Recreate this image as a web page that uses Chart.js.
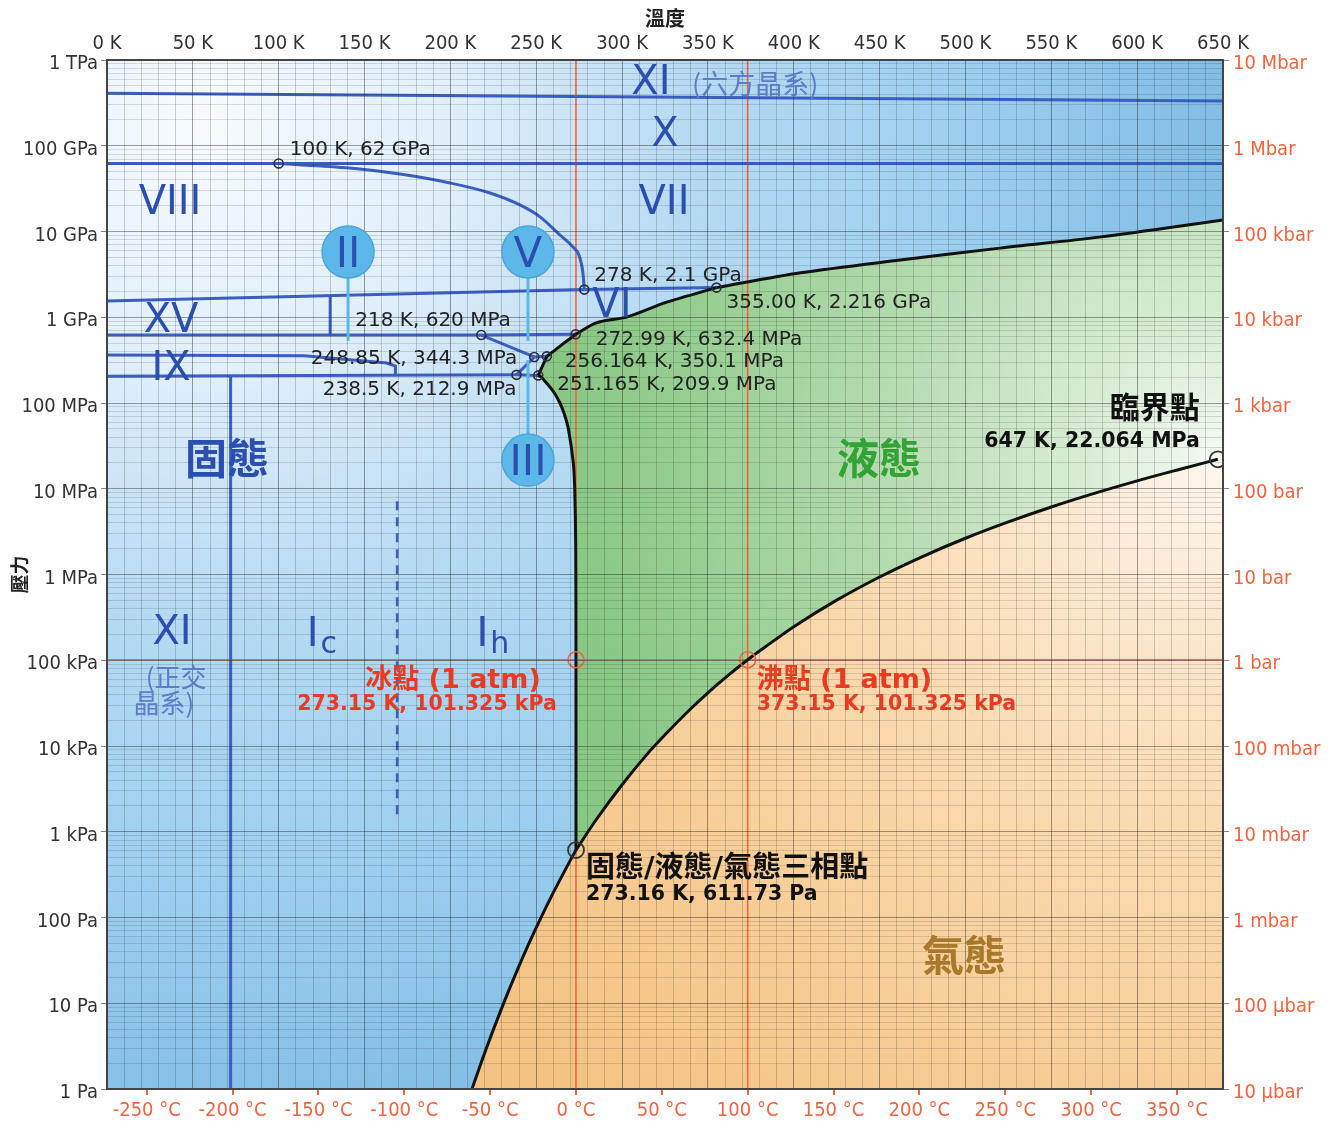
<!DOCTYPE html>
<html>
<head>
<meta charset="utf-8">
<title>水的相圖</title>
<script src="https://cdn.jsdelivr.net/npm/chart.js@4.4.1/dist/chart.umd.min.js"></script>
<style>
  html, body { margin: 0; padding: 0; background: #fff; }
  #wrap { width: 1332px; height: 1123px; position: relative; }
</style>
</head>
<body>
<div id="wrap"><canvas id="myChart"></canvas></div>
<script>
// ---- axis labels ----
var pressureLabels = ['1 Pa', '10 Pa', '100 Pa', '1 kPa', '10 kPa', '100 kPa', '1 MPa',
                      '10 MPa', '100 MPa', '1 GPa', '10 GPa', '100 GPa', '1 TPa'];
var barLabels = ['10 µbar', '100 µbar', '1 mbar', '10 mbar', '100 mbar', '1 bar', '10 bar',
                 '100 bar', '1 kbar', '10 kbar', '100 kbar', '1 Mbar', '10 Mbar'];
var celsiusTicks = [-250, -200, -150, -100, -50, 0, 50, 100, 150, 200, 250, 300, 350];

// ---- liquid / vapour / solid boundaries (K, Pa) ----
var sublimT = [212.6, 220, 230, 240, 250, 260, 270, 273.16];
var sublimP = [1, 2.65, 8.9, 27.3, 76, 196, 470, 611.73];

var vapT = [273.16, 285, 300, 315, 325, 340, 350, 360, 373.15, 385, 400, 425, 450, 475, 500, 525, 550, 575, 600, 625, 647];
var vapP = [611.73, 1389, 3537, 8205, 13500, 27200, 41700, 62200, 101325, 151000, 245800, 502000, 936000,
            1620000, 2646000, 4100000, 6130000, 8830000, 12370000, 16900000, 22064000];

var meltIhT = [273.16, 273.15, 273.0, 272.4, 271.6, 268.7, 266.3, 263.8, 261.2, 258.4, 255.6, 252.9, 251.165];
var meltIhP = [611.73, 101325, 2.2e6, 1e7, 2e7, 5e7, 7.5e7, 1e8, 1.25e8, 1.5e8, 1.75e8, 2e8, 2.099e8];
var meltIIIT = [251.165, 256.164];
var meltIIIP = [2.099e8, 3.501e8];
var meltVT = [256.164, 260, 265, 270, 272.99];
var meltVP = [3.501e8, 4.0e8, 4.8e8, 5.7e8, 6.324e8];
var meltVIT = [272.99, 285, 303, 326, 355];
var meltVIP = [6.324e8, 8.6e8, 1.01e9, 1.5e9, 2.216e9];
var meltVIIT = [355, 404, 462, 520, 578, 650];
var meltVIIP = [2.216e9, 3.3e9, 4.65e9, 6.4e9, 8.6e9, 1.36e10];

// ---- solid-solid boundaries ----
var xXiT = [0, 650];              var xXiP = [4.09e11, 3.33e11];
var xT = [0, 650];                var xP = [62e9, 62e9];
var viiViiiT = [100, 141.5, 170.7, 199.8, 223.1, 240.5, 252.2, 263.8, 271.4, 274.9, 277.2, 278];
var viiViiiP = [62e9, 5.5e10, 4.68e10, 3.68e10, 2.81e10, 2.04e10, 1.48e10, 9.1e9, 6.6e9, 5.3e9, 3.3e9, 2.1e9];
var viViiT = [278, 355];          var viViiP = [2.1e9, 2.216e9];
var viiiViT = [0, 278];           var viiiViP = [1.55e9, 2.1e9];
var xvViT = [130, 130];           var xvViP = [1.75e9, 6.2e8];
var iiViT = [0, 218];             var iiViP = [6.2e8, 6.2e8];
var vViT = [218, 272.99];         var vViP = [6.2e8, 6.324e8];
var iiVT = [218, 248.85];         var iiVP = [6.2e8, 3.443e8];
var iiiVT = [248.85, 256.164];    var iiiVP = [3.443e8, 3.501e8];
var iiIiiT = [238.5, 248.85];     var iiIiiP = [2.129e8, 3.443e8];
var ihIiiT = [238.5, 251.165];    var ihIiiP = [2.129e8, 2.099e8];
var ihIiT = [0, 238.5];           var ihIiP = [2.05e8, 2.129e8];
var ixT = [0, 115, 163, 168, 168]; var ixP = [3.63e8, 3.55e8, 2.93e8, 2.7e8, 2.07e8];
var xiIcT = [72, 72];             var xiIcP = [2.07e8, 1];
var icIhT = [169, 169];           var icIhP = [1.6e3, 7.4e6];

// ---- 1 atm reference lines ----
var atmT = [0, 650];              var atmP = [101325, 101325];
var freezeT = [273.15, 273.15];   var freezeP = [1, 1e12];
var boilT = [373.15, 373.15];     var boilP = [1, 1e12];

// ---- marked points ----
var tripleT = [100, 278, 355, 218, 272.99, 248.85, 256.164, 238.5, 251.165];
var tripleP = [62e9, 2.1e9, 2.216e9, 620e6, 632.4e6, 344.3e6, 350.1e6, 212.9e6, 209.9e6];
var tripleText = ['100 K, 62 GPa', '278 K, 2.1 GPa', '355.00 K, 2.216 GPa', '218 K, 620 MPa',
                  '272.99 K, 632.4 MPa', '248.85 K, 344.3 MPa', '256.164 K, 350.1 MPa',
                  '238.5 K, 212.9 MPa', '251.165 K, 209.9 MPa'];
var bigT = [273.16, 647];         var bigP = [611.73, 22.064e6];
var atmPointT = [273.15, 373.15]; var atmPointP = [101325, 101325];

// ---- colours / fonts ----
var LINE_BLUE = '#3a5ec2';
var TEXT_BLUE = '#2b4fb0';
var PALE_BLUE = '#5d7cc9';
var DISC_BLUE = '#5db8ea';
var RED = '#ea3a22';
var RED_LINE = '#f2643f';
var AXIS_FAMILY = '"DejaVu Sans Condensed", "DejaVu Sans", sans-serif';
var TEXT_FAMILY = '"DejaVu Sans", "Noto Sans CJK TC", sans-serif';
var CJK_FAMILY = '"Noto Sans CJK TC", "DejaVu Sans", sans-serif';
var LATIN_SHIFT = 4;   // DejaVu sits a little high with a "middle" baseline

function pts(T, P) {
    return T.map(function(t, i) { return {x: t, y: P[i]}; });
}

function isDecade(v) {
    var l = Math.log10(v);
    return Math.abs(l - Math.round(l)) < 1e-9;
}

function line(T, P, color, width, order, extra) {
    var ds = {data: pts(T, P), borderColor: color, borderWidth: width, pointRadius: 0,
              fill: false, tension: 0, order: order};
    return Object.assign(ds, extra || {});
}

function critPixel(chart) {
    return {x: chart.scales.x.getPixelForValue(bigT[1]), y: chart.scales.y.getPixelForValue(bigP[1])};
}

function radial(chart, cx, cy, r, stops, fallback) {
    if (!chart.chartArea) return fallback;
    var g = chart.ctx.createRadialGradient(cx, cy, 0, cx, cy, r);
    stops.forEach(function(s) { g.addColorStop(s[0], s[1]); });
    return g;
}

function solidFill(c) {
    var ch = c.chart;
    if (!ch.chartArea) return '#b8dcf4';
    var cx = ch.scales.x.getPixelForValue(55), cy = ch.scales.y.getPixelForValue(2e11);
    return radial(ch, cx, cy, 1100, [[0, '#f7fbfe'], [0.23, '#e0effa'], [0.45, '#b6daf3'],
                                      [0.7, '#9ccfef'], [1, '#79b7e2']], '#b8dcf4');
}

function liquidFill(c) {
    var ch = c.chart;
    if (!ch.chartArea) return '#a8d6a4';
    var p = critPixel(ch);
    return radial(ch, p.x, p.y, 660, [[0, '#f4faf3'], [0.2, '#d9edd5'], [0.5, '#b6dcb1'],
                                       [0.8, '#98cf93'], [1, '#88c784']], '#a8d6a4');
}

function vapourFill(c) {
    var ch = c.chart;
    if (!ch.chartArea) return '#f9dbb0';
    var p = critPixel(ch);
    return radial(ch, p.x, p.y, 900, [[0, '#fdf7f0'], [0.18, '#fbe8d0'], [0.45, '#f9d9ac'],
                                       [0.72, '#f7cd96'], [1, '#f4c383']], '#f9dbb0');
}

// closed outlines for the coloured phase areas
var solidArea = pts([0, 650, 650, 0], [1, 1, 1e12, 1e12]);
var vapourArea = pts(sublimT, sublimP)
    .concat(pts(vapT.slice(1), vapP.slice(1)))
    .concat(pts([650, 650], [22.064e6, 1]));
var liquidArea = pts(meltIhT, meltIhP)
    .concat(pts(meltIIIT.slice(1), meltIIIP.slice(1)))
    .concat(pts(meltVT.slice(1), meltVP.slice(1)))
    .concat(pts(meltVIT.slice(1), meltVIP.slice(1)))
    .concat(pts(meltVIIT.slice(1), meltVIIP.slice(1)))
    .concat(pts([650], [22.064e6]))
    .concat(pts(vapT.slice().reverse(), vapP.slice().reverse()));

var datasets = [
    {data: solidArea, fill: 'shape', backgroundColor: solidFill, borderColor: 'rgba(0,0,0,0)', borderWidth: 0, pointRadius: 0, order: 10},
    {data: vapourArea, fill: 'shape', backgroundColor: vapourFill, borderColor: 'rgba(0,0,0,0)', borderWidth: 0, pointRadius: 0, order: 9},
    {data: liquidArea, fill: 'shape', backgroundColor: liquidFill, borderColor: 'rgba(0,0,0,0)', borderWidth: 0, pointRadius: 0, order: 9},

    line(atmT, atmP, RED_LINE, 1.6, 6),
    line(freezeT, freezeP, RED_LINE, 1.6, 6),
    line(boilT, boilP, RED_LINE, 1.6, 6),

    line(xXiT, xXiP, LINE_BLUE, 3, 4),
    line(xT, xP, LINE_BLUE, 3, 4),
    line(viiViiiT, viiViiiP, LINE_BLUE, 3, 4, {cubicInterpolationMode: 'monotone'}),
    line(viViiT, viViiP, LINE_BLUE, 3, 4),
    line(viiiViT, viiiViP, LINE_BLUE, 3, 4),
    line(xvViT, xvViP, LINE_BLUE, 3, 4),
    line(iiViT, iiViP, LINE_BLUE, 3, 4),
    line(vViT, vViP, LINE_BLUE, 3, 4),
    line(iiVT, iiVP, LINE_BLUE, 3, 4),
    line(iiiVT, iiiVP, LINE_BLUE, 3, 4),
    line(iiIiiT, iiIiiP, LINE_BLUE, 3, 4),
    line(ihIiiT, ihIiiP, LINE_BLUE, 3, 4),
    line(ihIiT, ihIiP, LINE_BLUE, 3, 4),
    line(ixT, ixP, LINE_BLUE, 3, 4),
    line(xiIcT, xiIcP, LINE_BLUE, 3, 4),
    line(icIhT, icIhP, LINE_BLUE, 2.6, 4, {borderDash: [9, 7]}),

    line(sublimT, sublimP, '#111', 3, 3, {tension: 0.3}),
    line(vapT, vapP, '#111', 3, 3, {cubicInterpolationMode: 'monotone'}),
    line(meltIhT, meltIhP, '#111', 3, 3, {tension: 0.3}),
    line(meltIIIT, meltIIIP, '#111', 3, 3),
    line(meltVT, meltVP, '#111', 3, 3, {tension: 0.3}),
    line(meltVIT, meltVIP, '#111', 3, 3, {tension: 0.3}),
    line(meltVIIT, meltVIIP, '#111', 3, 3, {tension: 0.3}),

    {data: pts(tripleT, tripleP), showLine: false, pointRadius: 4.5, pointBorderWidth: 1.6,
     pointBorderColor: '#2c2f3c', pointBackgroundColor: 'rgba(0,0,0,0)', order: 1},
    {data: pts(bigT, bigP), showLine: false, pointRadius: 8, pointBorderWidth: 1.8,
     pointBorderColor: '#333', pointBackgroundColor: 'rgba(0,0,0,0)', order: 1},
    {data: pts(atmPointT, atmPointP), showLine: false, pointRadius: 8, pointBorderWidth: 1.6,
     pointBorderColor: RED_LINE, pointBackgroundColor: 'rgba(0,0,0,0)', order: 1}
];

// phase names, placed at (K, Pa)
var regionLabels = [
    {text: 'XI', k: 316.8, p: 5.85e11, size: 40, color: TEXT_BLUE},
    {text: '(六方晶系)', k: 377.5, p: 5.25e11, size: 27, color: PALE_BLUE, cjk: true},
    {text: 'X', k: 325, p: 1.45e11, size: 40, color: TEXT_BLUE},
    {text: 'VII', k: 324.4, p: 2.33e10, size: 40, color: TEXT_BLUE},
    {text: 'VIII', k: 36.7, p: 2.33e10, size: 40, color: TEXT_BLUE},
    {text: 'XV', k: 37.3, p: 9.8e8, size: 40, color: TEXT_BLUE},
    {text: 'IX', k: 37.3, p: 2.7e8, size: 40, color: TEXT_BLUE},
    {text: 'VI', k: 294.1, p: 1.47e9, size: 40, color: TEXT_BLUE},
    {text: '固態', k: 69.9, p: 2.28e7, size: 42, color: TEXT_BLUE, cjk: true, bold: true},
    {text: '液態', k: 449.6, p: 2.28e7, size: 42, color: '#33a335', cjk: true, bold: true},
    {text: '氣態', k: 499.2, p: 36.5, size: 42, color: '#a8792a', cjk: true, bold: true},
    {text: 'XI', k: 37.9, p: 2.25e5, size: 40, color: TEXT_BLUE},
    {text: '(正交', k: 40.2, p: 6.4e4, size: 26, color: PALE_BLUE, cjk: true},
    {text: '晶系)', k: 33.2, p: 3.17e4, size: 26, color: PALE_BLUE, cjk: true}
];

// "I" with a subscript letter
var subLabels = [
    {main: 'I', sub: 'c', k: 125.2, p: 1.97e5},
    {main: 'I', sub: 'h', k: 224.8, p: 1.97e5}
];

// round tags with a stem pointing at their area
var discTags = [
    {text: 'II', k: 140.4, p: 5.77e9, stemTo: 5.28e8},
    {text: 'V', k: 245.2, p: 5.77e9, stemTo: 5.28e8},
    {text: 'III', k: 245.2, p: 2.16e7, stemTo: 3.17e8}
];

// offsets of each triple-point caption from its marker
var tripleOffsets = [
    {dx: 11, dy: -16, align: 'left'},
    {dx: 10, dy: -16, align: 'left'},
    {dx: 10, dy: 13, align: 'left'},
    {dx: -126, dy: -16, align: 'left'},
    {dx: 20, dy: 3, align: 'left'},
    {dx: -17, dy: 0, align: 'right'},
    {dx: 18, dy: 3, align: 'left'},
    {dx: 0, dy: 13, align: 'right'},
    {dx: 19, dy: 7, align: 'left'}
];

var bigNotes = [
    {k: atmPointT[0], p: atmPointP[0], color: RED, align: 'center',
     lines: [{t: '冰點 (1 atm)', dx: -123, dy: 18, size: 27}, {t: '273.15 K, 101.325 kPa', dx: -149, dy: 42, size: 20.5}]},
    {k: atmPointT[1], p: atmPointP[1], color: RED, align: 'left',
     lines: [{t: '沸點 (1 atm)', dx: 9, dy: 18, size: 27}, {t: '373.15 K, 101.325 kPa', dx: 9, dy: 42, size: 20.5}]},
    {k: bigT[0], p: bigP[0], color: '#111', align: 'left',
     lines: [{t: '固態/液態/氣態三相點', dx: 10, dy: 16, size: 29}, {t: '273.16 K, 611.73 Pa', dx: 10, dy: 42, size: 20.5}]},
    {k: bigT[1], p: bigP[1], color: '#111', align: 'right',
     lines: [{t: '臨界點', dx: -18, dy: -52, size: 30}, {t: '647 K, 22.064 MPa', dx: -18, dy: -21, size: 20.5}]}
];

var notesPlugin = {
    id: 'phaseNotes',
    afterDraw: function(chart) {
        var ctx = chart.ctx, sx = chart.scales.x, sy = chart.scales.y, a = chart.chartArea;
        ctx.save();
        ctx.beginPath();
        ctx.rect(a.left, a.top, a.right - a.left, a.bottom - a.top);
        ctx.clip();
        ctx.textBaseline = 'middle';

        discTags.forEach(function(d) {
            var x = sx.getPixelForValue(d.k), y = sy.getPixelForValue(d.p);
            ctx.strokeStyle = DISC_BLUE;
            ctx.lineWidth = 3;
            ctx.beginPath();
            ctx.moveTo(x, y);
            ctx.lineTo(x, sy.getPixelForValue(d.stemTo));
            ctx.stroke();
            ctx.beginPath();
            ctx.arc(x, y, 26, 0, Math.PI * 2);
            ctx.fillStyle = DISC_BLUE;
            ctx.fill();
            ctx.lineWidth = 1.5;
            ctx.strokeStyle = '#4aa5dc';
            ctx.stroke();
            ctx.fillStyle = TEXT_BLUE;
            ctx.textAlign = 'center';
            ctx.font = '42px ' + TEXT_FAMILY;
            ctx.fillText(d.text, x, y + LATIN_SHIFT);
        });

        regionLabels.forEach(function(r) {
            ctx.font = (r.bold ? 'bold ' : '') + r.size + 'px ' + (r.cjk ? CJK_FAMILY : TEXT_FAMILY);
            ctx.fillStyle = r.color;
            ctx.textAlign = 'center';
            ctx.fillText(r.text, sx.getPixelForValue(r.k), sy.getPixelForValue(r.p) + (r.cjk ? 0 : LATIN_SHIFT));
        });

        subLabels.forEach(function(s) {
            var x = sx.getPixelForValue(s.k), y = sy.getPixelForValue(s.p) + LATIN_SHIFT;
            ctx.fillStyle = TEXT_BLUE;
            ctx.textAlign = 'left';
            ctx.font = '40px ' + TEXT_FAMILY;
            var w = ctx.measureText(s.main).width;
            ctx.font = '30px ' + TEXT_FAMILY;
            var w2 = ctx.measureText(s.sub).width;
            var left = x - (w + w2 + 2) / 2;
            ctx.font = '40px ' + TEXT_FAMILY;
            ctx.fillText(s.main, left, y - 3);
            ctx.font = '30px ' + TEXT_FAMILY;
            ctx.fillText(s.sub, left + w + 2, y + 6);
        });

        ctx.fillStyle = '#222';
        ctx.font = '20px ' + TEXT_FAMILY;
        tripleText.forEach(function(t, i) {
            var o = tripleOffsets[i];
            ctx.textAlign = o.align;
            ctx.fillText(t, sx.getPixelForValue(tripleT[i]) + o.dx, sy.getPixelForValue(tripleP[i]) + o.dy + 2);
        });

        bigNotes.forEach(function(n) {
            var x = sx.getPixelForValue(n.k), y = sy.getPixelForValue(n.p);
            ctx.fillStyle = n.color;
            ctx.textAlign = n.align;
            n.lines.forEach(function(l) {
                ctx.font = 'bold ' + l.size + 'px ' + TEXT_FAMILY;
                ctx.fillText(l.t, x + l.dx, y + l.dy + 3);
            });
        });
        ctx.restore();
    }
};

var axisFont = {family: AXIS_FAMILY, size: 20};
var axisBorder = {color: '#444', width: 2, z: 2};

var ctx = document.getElementById('myChart').getContext('2d');
var chart = new Chart(ctx, {
    type: 'line',
    data: {datasets: datasets},
    plugins: [notesPlugin],
    options: {
        responsive: true,
        maintainAspectRatio: false,
        animation: false,
        events: [],
        layout: {padding: 0},
        elements: {point: {radius: 0}},
        plugins: {legend: {display: false}, tooltip: {enabled: false}},
        scales: {
            x: {
                type: 'linear', position: 'top', min: 0, max: 650,
                ticks: {stepSize: 10, autoSkip: false, maxRotation: 0, padding: 4, color: '#333', font: axisFont,
                        callback: function(v) { return v % 50 === 0 ? v + ' K' : ''; }},
                grid: {z: 1, drawTicks: false, lineWidth: 1,
                       color: function(c) { return c.tick && c.tick.value % 50 === 0 ? 'rgba(30,30,30,0.42)' : 'rgba(30,30,30,0.2)'; }},
                border: axisBorder,
                title: {display: true, text: '溫度', color: '#222', padding: {top: 6, bottom: 0},
                        font: {family: CJK_FAMILY, size: 20, weight: 'bold'}},
                afterFit: function(s) { s.height = 60; }
            },
            xc: {
                type: 'linear', position: 'bottom', min: -273.15, max: 376.85,
                afterBuildTicks: function(s) { s.ticks = celsiusTicks.map(function(v) { return {value: v}; }); },
                ticks: {autoSkip: false, maxRotation: 0, padding: 4, color: RED_LINE, font: axisFont,
                        callback: function(v) { return v + ' °C'; }},
                grid: {drawOnChartArea: false, tickColor: RED_LINE, tickLength: 6, lineWidth: 2},
                border: axisBorder,
                afterFit: function(s) { s.height = 34; }
            },
            y: {
                type: 'logarithmic', position: 'left', min: 1, max: 1e12,
                afterBuildTicks: function(s) {
                    var t = [];
                    for (var e = 0; e < 12; e++) {
                        for (var m = 1; m < 10; m++) t.push({value: m * Math.pow(10, e)});
                    }
                    t.push({value: 1e12});
                    s.ticks = t;
                },
                ticks: {autoSkip: false, padding: 3, labelOffset: 4, color: '#333', font: axisFont,
                        callback: function(v) { return isDecade(v) ? pressureLabels[Math.round(Math.log10(v))] : ''; }},
                grid: {z: 1, lineWidth: 1, tickLength: 6,
                       color: function(c) { return isDecade(c.tick.value) ? 'rgba(30,30,30,0.42)' : 'rgba(30,30,30,0.14)'; },
                       tickColor: function(c) { return isDecade(c.tick.value) ? '#888' : 'rgba(0,0,0,0)'; }},
                border: axisBorder,
                title: {display: true, text: '壓力', color: '#222', padding: {top: 8, bottom: 0},
                        font: {family: CJK_FAMILY, size: 19, weight: 'bold'}},
                afterFit: function(s) { s.width = 107; }
            },
            yb: {
                type: 'logarithmic', position: 'right', min: 1e-5, max: 1e7,
                afterBuildTicks: function(s) {
                    s.ticks = barLabels.map(function(_, i) { return {value: Math.pow(10, i - 5)}; });
                },
                ticks: {autoSkip: false, padding: 4, labelOffset: 4, color: RED_LINE, font: axisFont,
                        callback: function(v, i) { return barLabels[i]; }},
                grid: {drawOnChartArea: false, tickColor: '#888', tickLength: 6},
                border: axisBorder,
                afterFit: function(s) { s.width = 109; }
            }
        }
    }
});
</script>
</body>
</html>
